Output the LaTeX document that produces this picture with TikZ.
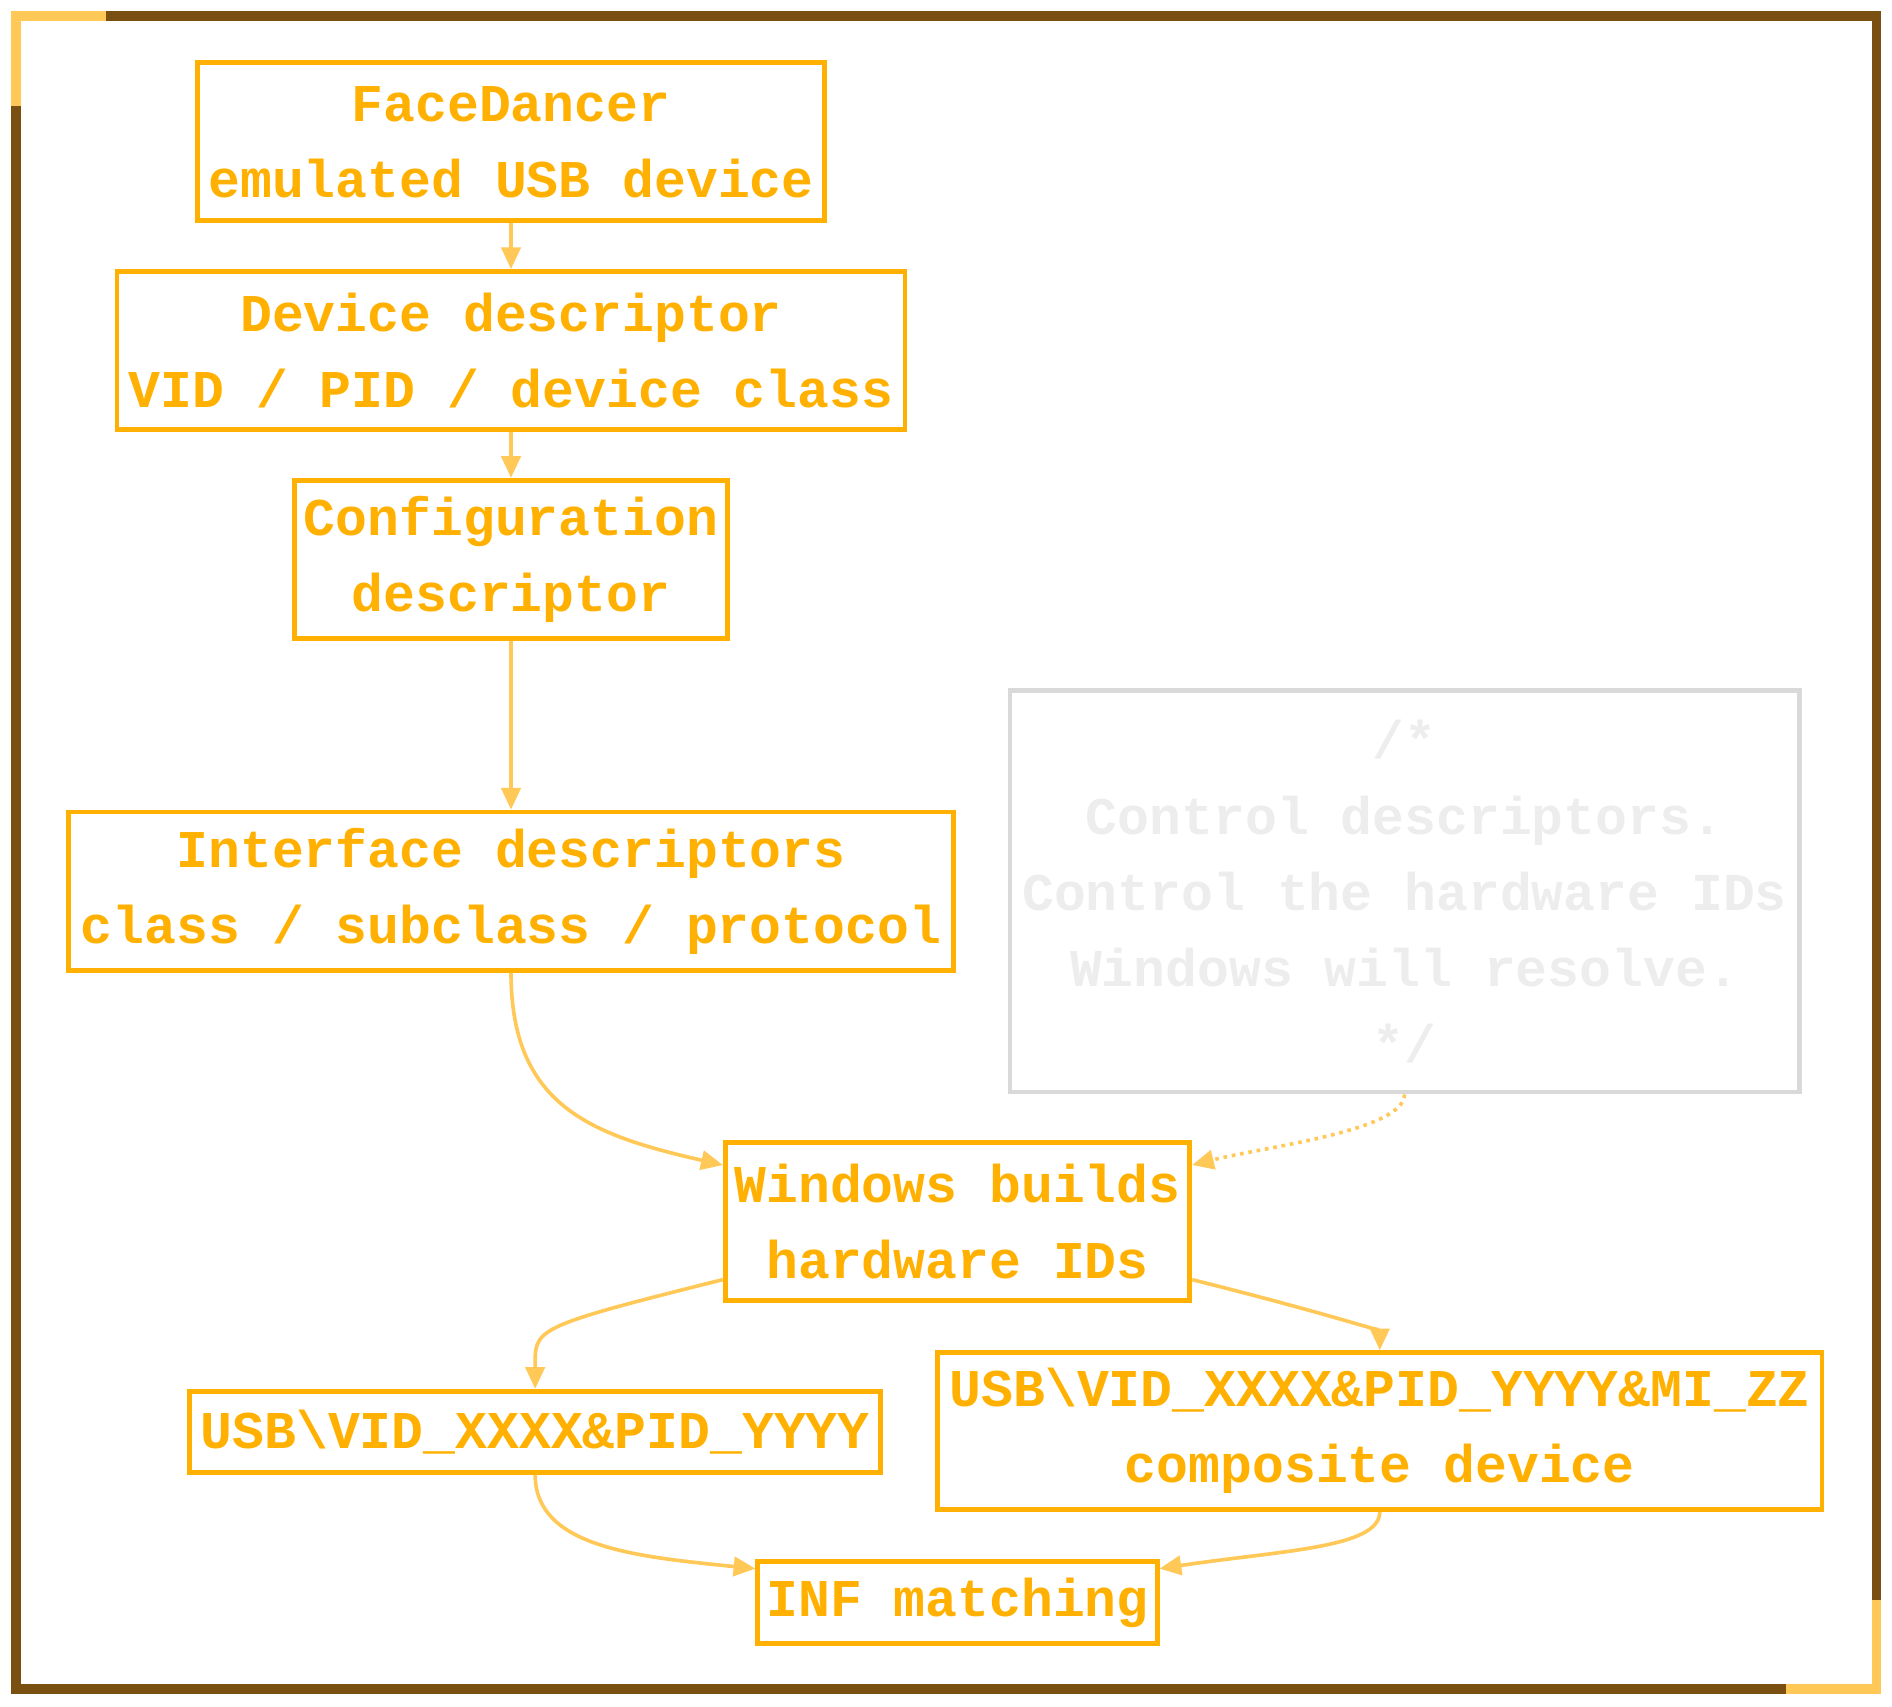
\documentclass[tikz,border=0pt]{standalone}
\usepackage{fontspec}
\setmonofont{Liberation Mono}
\usetikzlibrary{arrows.meta,calc}
\definecolor{org}{HTML}{FFB000}
\definecolor{lorg}{HTML}{FFC857}
\definecolor{brn}{HTML}{7A4F12}
\begin{document}
\begin{tikzpicture}[x=0.5pt,y=-0.5pt,
 box/.style={draw=org,line width=2pt,inner sep=0pt,align=center,text=org,
   font=\ttfamily\bfseries\fontsize{22}{31.5}\selectfont},
 cmt/.style={draw=black!15,line width=2pt,inner sep=0pt,align=center,text=black!7,
   font=\ttfamily\bfseries\fontsize{22}{31.5}\selectfont},
 ed/.style={draw=lorg,line width=1.5pt,-{Triangle[length=9pt,width=8pt]}}]
\useasboundingbox (0,0) rectangle (1568,1414);
\draw[brn,line width=4pt] (13,13) rectangle (1555,1400);
\draw[lorg,line width=4pt] (13,88) -- (13,13) -- (88,13);
\draw[lorg,line width=4pt] (1555,1326) -- (1555,1400) -- (1480,1400);
\node[box,minimum width=259.5pt,minimum height=65.5pt] (fd) at (423.5,117.5) {FaceDancer\\emulated USB device};
\node[box,minimum width=326.5pt,minimum height=65.5pt] (dd) at (423.5,290.5) {Device descriptor\\VID / PID / device class};
\node[box,minimum width=179.5pt,minimum height=65.5pt] (cd) at (423.5,463.5) {Configuration\\descriptor};
\node[box,minimum width=366.5pt,minimum height=65.5pt] (id) at (423.5,738.5) {Interface descriptors\\class / subclass / protocol};
\node[cmt,minimum width=327pt,minimum height=166.5pt] (cm) at (1164,738.5) {/*\\Control descriptors.\\Control the hardware IDs\\Windows will resolve.\\*/};
\node[box,minimum width=192.5pt,minimum height=65.5pt] (wb) at (793.5,1012.5) {Windows builds\\hardware IDs};
\node[box,minimum width=286.5pt,minimum height=33.5pt] (u1) at (443.5,1186.5) {USB\textbackslash VID\_XXXX\&PID\_YYYY};
\node[box,minimum width=366.5pt,minimum height=65pt] (u2) at (1143.5,1186) {USB\textbackslash VID\_XXXX\&PID\_YYYY\&MI\_ZZ\\composite device};
\node[box,minimum width=165.5pt,minimum height=34pt] (inf) at (793.5,1328) {INF matching};
\draw[ed] (fd) -- (dd);
\draw[ed] (dd) -- (cd);
\draw[ed] (cd) -- (id);
\draw[ed] (id.south) .. controls ++(0,110) and ++(-110,-25) .. ([yshift=23.5pt]wb.west);
\draw[ed,dotted] (cm.south) .. controls ++(0,30) and ++(60,-15) .. ([yshift=23.5pt]wb.east);
\draw[ed] ([yshift=-24pt]wb.west) .. controls ++(-160,40) and ++(0,-50) .. (u1.north);
\draw[ed] ([yshift=-24pt]wb.east) .. controls ++(120,30) and ++(0,-15) .. (u2.north);
\draw[ed] (u1.south) .. controls ++(0,60) and ++(-100,-10) .. ([yshift=14pt]inf.west);
\draw[ed] (u2.south) .. controls ++(0,30) and ++(100,-15) .. ([yshift=14pt]inf.east);
\end{tikzpicture}
\end{document}
